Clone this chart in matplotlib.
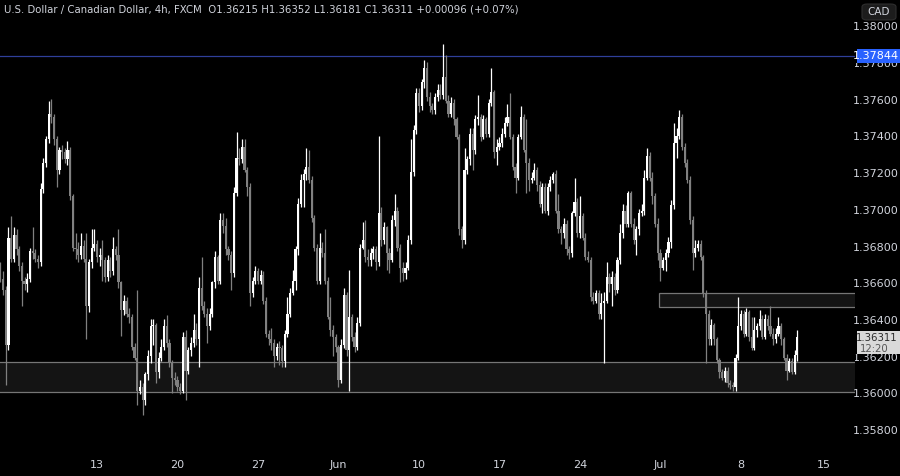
import numpy as np
import matplotlib
matplotlib.use("Agg")
import matplotlib.pyplot as plt
from matplotlib.patches import Rectangle, FancyBboxPatch

# USD/CAD 4h candles (FXCM)
first_open = 1.3668
closes = [
    1.3663, 1.3657, 1.3627, 1.3685, 1.3674, 1.3687, 1.3679, 1.3670, 1.3662, 1.3660,  # 0
    1.3663, 1.3678, 1.3677, 1.3674, 1.3672, 1.3712, 1.3726, 1.3739, 1.3753, 1.3751,  # 10
    1.3739, 1.3722, 1.3733, 1.3732, 1.3728, 1.3733, 1.3708, 1.3680, 1.3679, 1.3676,  # 20
    1.3681, 1.3674, 1.3648, 1.3672, 1.3680, 1.3682, 1.3675, 1.3676, 1.3673, 1.3664,  # 30
    1.3673, 1.3667, 1.3679, 1.3676, 1.3661, 1.3646, 1.3651, 1.3644, 1.3642, 1.3626,  # 40
    1.3620, 1.3602, 1.3604, 1.3597, 1.3611, 1.3621, 1.3637, 1.3638, 1.3612, 1.3620,  # 50
    1.3626, 1.3637, 1.3628, 1.3617, 1.3609, 1.3608, 1.3604, 1.3602, 1.3631, 1.3613,  # 60
    1.3624, 1.3628, 1.3635, 1.3630, 1.3658, 1.3648, 1.3644, 1.3637, 1.3644, 1.3661,  # 70
    1.3675, 1.3662, 1.3695, 1.3692, 1.3679, 1.3676, 1.3666, 1.3710, 1.3729, 1.3728,  # 80
    1.3735, 1.3722, 1.3713, 1.3655, 1.3662, 1.3667, 1.3662, 1.3665, 1.3651, 1.3633,  # 90
    1.3630, 1.3628, 1.3621, 1.3626, 1.3625, 1.3618, 1.3633, 1.3644, 1.3655, 1.3662,  # 100
    1.3679, 1.3704, 1.3717, 1.3720, 1.3724, 1.3717, 1.3696, 1.3680, 1.3662, 1.3680,  # 110
    1.3677, 1.3662, 1.3642, 1.3635, 1.3631, 1.3626, 1.3608, 1.3627, 1.3654, 1.3624,  # 120
    1.3642, 1.3631, 1.3626, 1.3639, 1.3680, 1.3684, 1.3675, 1.3673, 1.3677, 1.3679,  # 130
    1.3672, 1.3699, 1.3684, 1.3691, 1.3677, 1.3673, 1.3695, 1.3700, 1.3680, 1.3669,  # 140
    1.3666, 1.3669, 1.3684, 1.3721, 1.3744, 1.3764, 1.3757, 1.3770, 1.3778, 1.3762,  # 150
    1.3757, 1.3755, 1.3762, 1.3766, 1.3763, 1.3773, 1.3760, 1.3753, 1.3759, 1.3750,  # 160
    1.3740, 1.3690, 1.3684, 1.3722, 1.3728, 1.3742, 1.3733, 1.3750, 1.3751, 1.3740,  # 170
    1.3750, 1.3742, 1.3759, 1.3765, 1.3732, 1.3735, 1.3737, 1.3742, 1.3748, 1.3751,  # 180
    1.3740, 1.3724, 1.3718, 1.3740, 1.3751, 1.3733, 1.3726, 1.3717, 1.3718, 1.3722,  # 190
    1.3714, 1.3704, 1.3713, 1.3700, 1.3713, 1.3717, 1.3720, 1.3700, 1.3690, 1.3688,  # 200
    1.3693, 1.3679, 1.3677, 1.3699, 1.3705, 1.3688, 1.3697, 1.3685, 1.3675, 1.3673,  # 210
    1.3653, 1.3651, 1.3655, 1.3644, 1.3650, 1.3651, 1.3664, 1.3660, 1.3664, 1.3657,  # 220
    1.3673, 1.3688, 1.3700, 1.3693, 1.3710, 1.3693, 1.3684, 1.3690, 1.3699, 1.3700,  # 230
    1.3718, 1.3730, 1.3718, 1.3708, 1.3693, 1.3677, 1.3669, 1.3673, 1.3677, 1.3683,  # 240
    1.3703, 1.3737, 1.3741, 1.3751, 1.3735, 1.3726, 1.3717, 1.3695, 1.3677, 1.3680,  # 250
    1.3682, 1.3675, 1.3655, 1.3644, 1.3630, 1.3638, 1.3630, 1.3619, 1.3612, 1.3609,  # 260
    1.3613, 1.3606, 1.3605, 1.3604, 1.3620, 1.3637, 1.3644, 1.3633, 1.3645, 1.3631,  # 270
    1.3625, 1.3635, 1.3637, 1.3641, 1.3631, 1.3641, 1.3637, 1.3633, 1.3630, 1.3633,  # 280
    1.3637, 1.3630, 1.3620, 1.3613, 1.3618, 1.3612, 1.36215, 1.36311,                # 290
]
highs = [
    1.3672, 1.3667, 1.3659, 1.3691, 1.3697, 1.3691, 1.3690, 1.3681, 1.3672, 1.3664,
    1.3666, 1.3680, 1.3691, 1.3679, 1.3676, 1.3715, 1.3729, 1.3741, 1.3760, 1.3761,
    1.3753, 1.3741, 1.3735, 1.3736, 1.3734, 1.3738, 1.3735, 1.3709, 1.3688, 1.3683,
    1.3688, 1.3684, 1.3688, 1.3674, 1.3690, 1.3690, 1.3684, 1.3680, 1.3684, 1.3675,
    1.3676, 1.3675, 1.3686, 1.3681, 1.3690, 1.3662, 1.3654, 1.3653, 1.3647, 1.3644,
    1.3628, 1.3657, 1.3608, 1.3606, 1.3612, 1.3624, 1.3641, 1.3641, 1.3639, 1.3623,
    1.3630, 1.3641, 1.3643, 1.3630, 1.3619, 1.3612, 1.3610, 1.3606, 1.3634, 1.3635,
    1.3626, 1.3631, 1.3644, 1.3639, 1.3664, 1.3675, 1.3651, 1.3647, 1.3647, 1.3662,
    1.3678, 1.3676, 1.3699, 1.3699, 1.3696, 1.3681, 1.3678, 1.3713, 1.3743, 1.3734,
    1.3739, 1.3739, 1.3724, 1.3715, 1.3664, 1.3670, 1.3669, 1.3668, 1.3667, 1.3653,
    1.3635, 1.3636, 1.3630, 1.3628, 1.3629, 1.3627, 1.3635, 1.3653, 1.3658, 1.3668,
    1.3681, 1.3707, 1.3720, 1.3723, 1.3734, 1.3733, 1.3719, 1.3698, 1.3682, 1.3688,
    1.3683, 1.3690, 1.3664, 1.3653, 1.3638, 1.3633, 1.3627, 1.3630, 1.3658, 1.3656,
    1.3668, 1.3644, 1.3634, 1.3642, 1.3682, 1.3694, 1.3695, 1.3679, 1.3680, 1.3681,
    1.3681, 1.3741, 1.3702, 1.3694, 1.3692, 1.3680, 1.3698, 1.3709, 1.3702, 1.3682,
    1.3672, 1.3672, 1.3687, 1.3739, 1.3747, 1.3767, 1.3767, 1.3772, 1.3782, 1.3781,
    1.3765, 1.3759, 1.3764, 1.3769, 1.3769, 1.3791, 1.3785, 1.3763, 1.3762, 1.3761,
    1.3751, 1.3742, 1.3692, 1.3734, 1.3730, 1.3745, 1.3745, 1.3752, 1.3763, 1.3753,
    1.3752, 1.3751, 1.3761, 1.3778, 1.3766, 1.3739, 1.3740, 1.3745, 1.3751, 1.3758,
    1.3764, 1.3742, 1.3726, 1.3742, 1.3757, 1.3753, 1.3750, 1.3729, 1.3721, 1.3726,
    1.3724, 1.3716, 1.3715, 1.3715, 1.3715, 1.3719, 1.3721, 1.3722, 1.3709, 1.3692,
    1.3696, 1.3695, 1.3681, 1.3700, 1.3718, 1.3707, 1.3708, 1.3699, 1.3688, 1.3678,
    1.3675, 1.3656, 1.3657, 1.3657, 1.3655, 1.3656, 1.3672, 1.3666, 1.3667, 1.3666,
    1.3675, 1.3693, 1.3704, 1.3703, 1.3711, 1.3711, 1.3696, 1.3692, 1.3701, 1.3704,
    1.3722, 1.3734, 1.3732, 1.3721, 1.3710, 1.3696, 1.3679, 1.3675, 1.3679, 1.3686,
    1.3706, 1.3748, 1.3745, 1.3755, 1.3753, 1.3737, 1.3728, 1.3719, 1.3697, 1.3684,
    1.3684, 1.3684, 1.3676, 1.3657, 1.3646, 1.3641, 1.3639, 1.3631, 1.3620, 1.3614,
    1.3615, 1.3615, 1.3608, 1.3607, 1.3622, 1.3653, 1.3646, 1.3646, 1.3647, 1.3646,
    1.3642, 1.3642, 1.3639, 1.3646, 1.3643, 1.3644, 1.3643, 1.3648, 1.3636, 1.3636,
    1.3642, 1.3639, 1.3631, 1.3622, 1.3620, 1.3620, 1.3624, 1.36352,
]
lows = [
    1.3661, 1.3654, 1.3605, 1.3624, 1.3672, 1.3672, 1.3676, 1.3667, 1.3648, 1.3657,
    1.3656, 1.3661, 1.3674, 1.3672, 1.3669, 1.3670, 1.3710, 1.3724, 1.3737, 1.3748,
    1.3736, 1.3713, 1.3720, 1.3728, 1.3726, 1.3725, 1.3706, 1.3678, 1.3674, 1.3672,
    1.3674, 1.3672, 1.3630, 1.3645, 1.3669, 1.3678, 1.3672, 1.3670, 1.3662, 1.3661,
    1.3662, 1.3664, 1.3665, 1.3673, 1.3658, 1.3632, 1.3643, 1.3642, 1.3639, 1.3624,
    1.3619, 1.3594, 1.3600, 1.3589, 1.3594, 1.3608, 1.3617, 1.3627, 1.3606, 1.3609,
    1.3618, 1.3624, 1.3626, 1.3615, 1.3601, 1.3605, 1.3602, 1.3600, 1.3601, 1.3597,
    1.3611, 1.3621, 1.3626, 1.3627, 1.3615, 1.3646, 1.3642, 1.3628, 1.3635, 1.3642,
    1.3658, 1.3660, 1.3660, 1.3688, 1.3676, 1.3673, 1.3657, 1.3664, 1.3708, 1.3725,
    1.3726, 1.3721, 1.3708, 1.3648, 1.3653, 1.3660, 1.3660, 1.3660, 1.3649, 1.3631,
    1.3627, 1.3624, 1.3615, 1.3619, 1.3616, 1.3615, 1.3615, 1.3631, 1.3642, 1.3654,
    1.3657, 1.3676, 1.3702, 1.3702, 1.3717, 1.3715, 1.3694, 1.3678, 1.3660, 1.3660,
    1.3675, 1.3660, 1.3641, 1.3632, 1.3621, 1.3623, 1.3604, 1.3606, 1.3625, 1.3621,
    1.3602, 1.3629, 1.3623, 1.3624, 1.3637, 1.3679, 1.3672, 1.3670, 1.3670, 1.3674,
    1.3668, 1.3670, 1.3681, 1.3682, 1.3668, 1.3666, 1.3672, 1.3692, 1.3678, 1.3661,
    1.3662, 1.3663, 1.3668, 1.3682, 1.3719, 1.3742, 1.3754, 1.3755, 1.3767, 1.3760,
    1.3754, 1.3753, 1.3753, 1.3760, 1.3761, 1.3761, 1.3759, 1.3751, 1.3751, 1.3747,
    1.3739, 1.3687, 1.3680, 1.3682, 1.3720, 1.3725, 1.3722, 1.3731, 1.3747, 1.3738,
    1.3739, 1.3740, 1.3740, 1.3757, 1.3729, 1.3725, 1.3733, 1.3735, 1.3740, 1.3746,
    1.3739, 1.3722, 1.3710, 1.3717, 1.3739, 1.3732, 1.3710, 1.3711, 1.3715, 1.3717,
    1.3711, 1.3702, 1.3699, 1.3699, 1.3698, 1.3711, 1.3715, 1.3699, 1.3688, 1.3682,
    1.3685, 1.3676, 1.3674, 1.3675, 1.3697, 1.3686, 1.3685, 1.3684, 1.3673, 1.3672,
    1.3651, 1.3649, 1.3650, 1.3641, 1.3641, 1.3617, 1.3650, 1.3656, 1.3648, 1.3654,
    1.3655, 1.3671, 1.3685, 1.3691, 1.3691, 1.3691, 1.3682, 1.3676, 1.3687, 1.3697,
    1.3698, 1.3717, 1.3716, 1.3704, 1.3691, 1.3673, 1.3662, 1.3668, 1.3667, 1.3675,
    1.3680, 1.3701, 1.3729, 1.3739, 1.3733, 1.3724, 1.3715, 1.3693, 1.3668, 1.3675,
    1.3678, 1.3673, 1.3653, 1.3617, 1.3627, 1.3627, 1.3627, 1.3617, 1.3609, 1.3608,
    1.3607, 1.3604, 1.3603, 1.3602, 1.3602, 1.3619, 1.3635, 1.3631, 1.3632, 1.3629,
    1.3624, 1.3624, 1.3631, 1.3635, 1.3630, 1.3630, 1.3635, 1.3632, 1.3627, 1.3628,
    1.3632, 1.3627, 1.3619, 1.3608, 1.3612, 1.3611, 1.3611, 1.36181,
]

# weekly date labels (index of the first 4h candle of each week)
tick_idx = [36, 66, 96, 126, 156, 186, 216, 246, 276, 307]
tick_lab = ["13", "20", "27", "Jun", "10", "17", "24", "Jul", "8", "15"]

price_ticks = [1.358, 1.360, 1.362, 1.364, 1.366, 1.368, 1.370, 1.372, 1.374, 1.376, 1.378, 1.380]
line_level = 1.37844
zone_low = (1.36014, 1.36178)
zone_high = (1.36474, 1.36550)
zone_high_start = 245.5
last_price = 1.36311

BG = "#000000"
TXT = "#d1d4dc"
UP = "#ffffff"
DOWN = "#808080"

closes = np.array(closes)
highs = np.array(highs)
lows = np.array(lows)
opens = np.concatenate([[first_open], closes[:-1]])
opens[-1] = 1.36215
highs = np.maximum(highs, np.maximum(opens, closes))
lows = np.minimum(lows, np.minimum(opens, closes))
x = np.arange(len(closes))
up = closes >= opens
cols = np.where(up, UP, DOWN)

fig = plt.figure(figsize=(9, 4.76), dpi=100, facecolor=BG)
ax = fig.add_axes([0, 24 / 476, 855 / 900, 452 / 476])
ax.set_facecolor(BG)
ax.set_xlim(-0.15, 318.52)
ax.set_ylim(1.35686, 1.38149)

# zones
ax.add_patch(Rectangle((-5, zone_low[0]), 400, zone_low[1] - zone_low[0],
                       facecolor="#141414", edgecolor="none", zorder=0))
ax.axhline(zone_low[0], color="#767676", lw=0.9, zorder=1)
ax.axhline(zone_low[1], color="#767676", lw=0.9, zorder=1)
ax.add_patch(Rectangle((zone_high_start, zone_high[0]), 400, zone_high[1] - zone_high[0],
                       facecolor="#141414", edgecolor="#767676", lw=0.9, zorder=1))
ax.axhline(line_level, color="#2f3f9a", lw=0.9, zorder=1)

# candles
ax.vlines(x, lows, highs, colors=cols, lw=0.9, zorder=2)
body = np.abs(closes - opens)
body = np.maximum(body, 0.00004)
ax.bar(x, body, bottom=np.minimum(opens, closes), width=0.8, color=cols,
       linewidth=0, zorder=3)

for s in ax.spines.values():
    s.set_visible(False)
ax.set_yticks([])
ax.set_xticks(tick_idx)
ax.set_xticklabels(tick_lab, color=TXT, fontsize=8)
ax.tick_params(axis="x", length=0, pad=6)

# price scale on the right
def ypix(p):
    lo, hi = ax.get_ylim()
    return 24 / 476 + (p - lo) / (hi - lo) * 452 / 476

blue_box = Rectangle((857 / 900, ypix(line_level) - 7 / 476), 43 / 900, 14 / 476,
                     transform=fig.transFigure, facecolor="#2962ff",
                     edgecolor="none", zorder=5)
last_box = Rectangle((857 / 900, ypix(last_price) - 17 / 476), 43 / 900, 23 / 476,
                     transform=fig.transFigure, facecolor="#d9d9d9",
                     edgecolor="none", zorder=5)

for p in price_ticks:
    t = fig.text(0.9985, ypix(p), "%.5f" % p, color=TXT, fontsize=8,
                 ha="right", va="center")
    if p == 1.378:
        # partly hidden under the blue level label
        clip = Rectangle((855 / 900, 0), 45 / 900, ypix(line_level) - 7 / 476,
                         transform=fig.transFigure, visible=False)
        fig.patches.append(clip)
        t.set_clip_path(clip)
    if p == 1.362:
        clip = Rectangle((855 / 900, 0), 45 / 900, ypix(last_price) - 17 / 476,
                         transform=fig.transFigure, visible=False)
        fig.patches.append(clip)
        t.set_clip_path(clip)

fig.patches.append(blue_box)
fig.text(0.9985, ypix(line_level), "%.5f" % line_level, color="white", fontsize=8,
         ha="right", va="center", zorder=6)

fig.patches.append(last_box)
fig.text(0.9975, ypix(last_price) - 0.5 / 476, "1.36311", color="#2a2a2a", fontsize=7.3,
         ha="right", va="center", zorder=6)
fig.text(860 / 900, ypix(last_price) - 11.5 / 476, "12:20", color="#555555", fontsize=7.3,
         ha="left", va="center", zorder=6)

# currency box
fig.patches.append(FancyBboxPatch((862 / 900, 456 / 476), 34 / 900, 16 / 476,
                                  boxstyle="round,pad=0,rounding_size=0.006",
                                  transform=fig.transFigure, facecolor="#1c1c1c",
                                  edgecolor="#2e2e2e", lw=0.8, zorder=5))
fig.text(879 / 900, 464 / 476, "CAD", color=TXT, fontsize=7.5, ha="center",
         va="center", zorder=6)

# header
fig.text(4 / 900, 466 / 476,
         "U.S. Dollar / Canadian Dollar, 4h, FXCM  O1.36215 H1.36352 L1.36181 C1.36311 +0.00096 (+0.07%)",
         color=TXT, fontsize=7.3, ha="left", va="center")

fig.savefig("out.png", dpi=100, facecolor=BG)
